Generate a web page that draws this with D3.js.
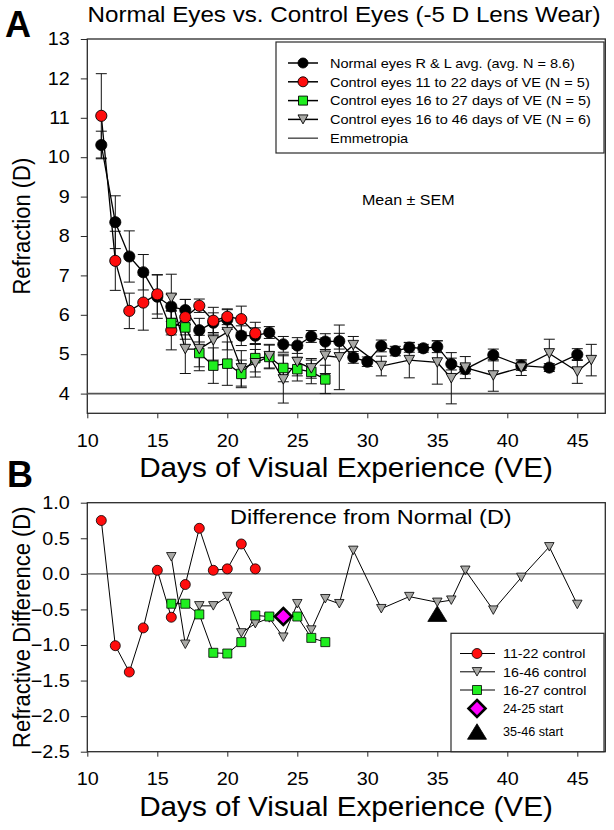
<!DOCTYPE html>
<html><head><meta charset="utf-8">
<script src="https://cdn.jsdelivr.net/npm/d3@7"></script>
<style>body{margin:0;background:#fff} svg{display:block} text{font-family:"Liberation Sans",Arial,sans-serif}</style>
</head><body>
<svg id="c" width="614" height="830"></svg>
<script>
// ---------- data ----------
const xTicks = [10,15,20,25,30,35,40,45];
const yTicksA = [4,5,6,7,8,9,10,11,12,13];
const yTicksB = [-2.5,-2.0,-1.5,-1.0,-0.5,0.0,0.5,1.0];
const emmetropia = 4;

const normalDays = [11,12,13,14,15,16,17,18,19,20,21,22,23,24,25,26,27,28,29,30,31,32,33,34,35,36,37,39,41,43,45];
const normalMean = [10.31,8.35,7.48,7.08,6.46,6.21,6.12,5.61,5.80,5.88,5.47,5.47,5.55,5.25,5.22,5.45,5.32,5.33,4.92,4.81,5.21,5.08,5.17,5.15,5.19,4.75,4.62,4.98,4.71,4.66,4.99];
const normalSem  = [0.35,0.67,0.65,0.45,0.55,0.30,0.27,0.30,0.25,0.25,0.25,0.20,0.15,0.20,0.20,0.15,0.20,0.20,0.15,0.12,0.15,0.12,0.12,0.10,0.15,0.15,0.12,0.15,0.12,0.10,0.15];

const c1122Days = [11,12,13,14,15,16,17,18,19,20,21,22];
const c1122Mean = [11.05,7.37,6.10,6.31,6.52,5.61,5.94,6.23,5.85,5.95,5.89,5.53];
const c1122Sem  = [1.07,0.75,0.45,0.70,0.50,0.50,0.45,0.17,0.34,0.20,0.33,0.28];

const c1627Days = [16,17,18,19,20,21,22,23,24,25,26,27];
const c1627Mean = [5.79,5.68,5.03,4.71,4.76,4.50,4.90,4.93,4.65,4.62,4.55,4.36];
const c1627Sem  = [0.30,0.30,0.45,0.45,0.55,0.35,0.35,0.30,0.35,0.30,0.30,0.36];

const c1646Days = [16,17,18,19,20,21,22,23,24,25,26,27,28,29,31,33,35,36,37,39,41,43,45,46];
const c1646Mean = [6.43,5.13,5.13,5.35,5.56,4.64,4.77,4.95,4.36,4.80,4.64,4.96,4.92,5.23,4.70,4.85,4.79,4.39,4.66,4.46,4.66,5.02,4.56,4.85];
const c1646Sem  = [0.60,0.62,0.45,0.50,0.45,0.45,0.35,0.30,0.60,0.35,0.25,0.45,0.82,0.22,0.25,0.45,0.55,0.65,0.28,0.40,0.20,0.36,0.30,0.40];

const diff1122 = [0.75,-1.01,-1.38,-0.76,0.05,-0.61,-0.15,0.64,0.05,0.07,0.42,0.07];
const diff1646Days = [16,17,18,19,20,21,22,23,24,25,26,27,28,29,31,33,35,36,37,39,41,43,45];
const diff1646 = [0.24,-0.99,-0.45,-0.45,-0.32,-0.83,-0.70,-0.62,-0.89,-0.42,-0.79,-0.35,-0.42,0.33,-0.49,-0.32,-0.40,-0.37,0.05,-0.51,-0.05,0.38,-0.43];
const diff1627 = [-0.42,-0.42,-0.57,-1.11,-1.12,-0.96,-0.585,-0.60,-0.60,-0.60,-0.90,-0.96];
const start2425 = [{day:24, v:-0.60}];
const start3546 = [{day:35, v:-0.56}];

const legendALabels = ["Normal eyes R & L avg. (avg. N = 8.6)","Control eyes 11 to 22 days of VE (N = 5)","Control eyes 16 to 27 days of VE (N = 5)","Control eyes 16 to 46 days of VE (N = 6)","Emmetropia"];
const legendBLabels = ["11-22 control","16-46 control","16-27 control","24-25 start","35-46 start"];

// ---------- drawing ----------
const SX = 1.1;
const FONT = '"Liberation Sans",Arial,sans-serif';
const RED="#ff0d0d", GREEN="#1fee1f", GRAY="#a9a9a6", MAG="#ff00ff";
const svg = d3.select("#c");
const x = d3.scaleLinear().domain([10,47]).range([87.3,605.3]);
const yA = d3.scaleLinear().domain([3.5,13]).range([413.3,39]);
const yB = d3.scaleLinear().domain([-2.5,1.0]).range([751.7,502.7]);

function txt(g, px, py, s, size, o={}) {
  const t = g.append("text")
    .attr("transform", `translate(${px},${py}) scale(${o.sx ?? SX},1)` + (o.rot ? ` rotate(${o.rot})` : ""))
    .attr("font-size", size).attr("text-anchor", o.anchor || "start").attr("fill","#000").text(s);
  if (o.bold) t.attr("font-weight","bold");
  return t;
}
const zip = (d, v) => d.map((day,i)=>({day, v:v[i]}));
const zip3 = (d, v, s) => d.map((day,i)=>({day, v:v[i], s:s[i]}));

const downTri = (w,h) => `M${-w/2},${-h/2}L${w/2},${-h/2}L0,${h/2}Z`;
const upTri = (w,h) => `M${-w/2},${h/2}L${w/2},${h/2}L0,${-h/2}Z`;
const square = (w) => `M${-w/2},${-w/2}h${w}v${w}h${-w}Z`;
const diamond = (r) => `M0,${-r}L${r},0L0,${r}L${-r},0Z`;

function frame(y, ticks, fmt, xPad) {
  const [b, t] = y.range();
  svg.append("rect").attr("x", x(10)).attr("y", t).attr("width", x(47)-x(10)).attr("height", b-t)
    .attr("fill","none").attr("stroke","#2a2a2a").attr("stroke-width",1.3);
  const gx = svg.append("g").attr("transform",`translate(0,${b})`)
    .call(d3.axisBottom(x).tickValues(xTicks).tickSize(5).tickSizeOuter(0).tickPadding(xPad));
  gx.select(".domain").remove();
  gx.attr("font-size",18).attr("font-family",FONT).attr("color","#2a2a2a");
  gx.selectAll("text").attr("fill","#000").attr("transform",`scale(${SX},1)`);
  const gy = svg.append("g").attr("transform",`translate(${x(10)},0)`)
    .call(d3.axisLeft(y).tickValues(ticks).tickFormat(fmt).tickSize(6.5).tickSizeOuter(0).tickPadding(9.4));
  gy.select(".domain").remove();
  gy.attr("font-size",18).attr("font-family",FONT).attr("color","#2a2a2a");
  gy.selectAll("text").attr("fill","#000").attr("transform",`scale(${SX},1)`);
}

function errBars(g, data, y) {
  const eb = g.append("g").attr("stroke","#111").attr("stroke-width",1).attr("fill","none");
  data.forEach(d => {
    const x0 = x(d.day), y1 = y(d.v + d.s), y2 = y(d.v - d.s);
    eb.append("path").attr("d", `M${x0},${y1}V${y2}M${x0-5.5},${y1}H${x0+5.5}M${x0-5.5},${y2}H${x0+5.5}`);
  });
}
function seriesLine(g, data, y, w) {
  g.append("path").datum(data).attr("fill","none").attr("stroke","#000").attr("stroke-width",w)
    .attr("d", d3.line().x(d=>x(d.day)).y(d=>y(d.v)));
}
function marks(g, data, y, shape, fill, sw) {
  g.selectAll(null).data(data).enter().append("path")
    .attr("transform", d=>`translate(${x(d.day)},${y(d.v)})`)
    .attr("d", shape).attr("fill", fill).attr("stroke","#000").attr("stroke-width", sw);
}
const circ = r => `M${r},0A${r},${r} 0 1,1 ${-r},0A${r},${r} 0 1,1 ${r},0Z`;

// ===== Panel A =====
frame(yA, yTicksA, d3.format("d"), 16.2);
const gA = svg.append("g");
gA.append("line").attr("x1",x(10)).attr("x2",x(47)).attr("y1",yA(emmetropia)).attr("y2",yA(emmetropia))
  .attr("stroke","#555").attr("stroke-width",1.6);

const nA = zip3(normalDays, normalMean, normalSem);
const rA = zip3(c1122Days, c1122Mean, c1122Sem);
const gAd = zip3(c1627Days, c1627Mean, c1627Sem);
const tA = zip3(c1646Days, c1646Mean, c1646Sem);
[nA, rA, gAd, tA].forEach(s => errBars(gA, s, yA));
[nA, rA, gAd, tA].forEach(s => seriesLine(gA, s, yA, 1.3));
marks(gA, nA, yA, circ(5.6), "#000", 0.8);
marks(gA, rA, yA, circ(5.6), RED, 0.9);
marks(gA, gAd, yA, square(9.5), GREEN, 0.9);
marks(gA, tA, yA, downTri(10.5,9.5), GRAY, 0.9);

// legend A
const lgA = svg.append("g");
lgA.append("rect").attr("x",276).attr("y",42).attr("width",328).attr("height",111)
  .attr("fill","#fff").attr("stroke","#2a2a2a").attr("stroke-width",1.2);
const legAShapes = [[circ(5),"#000"],[circ(5),RED],[square(9),GREEN],[downTri(10,9),GRAY],null];
legendALabels.forEach((lab,i) => {
  const cy = 63 + i*18.8;
  lgA.append("line").attr("x1",288).attr("x2",318).attr("y1",cy).attr("y2",cy)
    .attr("stroke", i===4 ? "#555" : "#000").attr("stroke-width", 1.5);
  if (legAShapes[i]) lgA.append("path").attr("transform",`translate(303,${cy})`).attr("d",legAShapes[i][0])
    .attr("fill",legAShapes[i][1]).attr("stroke","#000").attr("stroke-width",0.9);
  txt(lgA, 330, cy+4.7, lab, 13.2);
});

txt(svg, 362, 205, "Mean \u00b1 SEM", 14.6);
txt(svg, 344, 22, "Normal Eyes vs. Control Eyes (-5 D Lens Wear)", 22, {anchor:"middle"});
txt(svg, 5, 37, "A", 36, {bold:true, sx:1});
txt(svg, 346, 477, "Days of Visual Experience (VE)", 27, {anchor:"middle"});
txt(svg, 30, yA(8.25), "Refraction (D)", 22, {anchor:"middle", rot:-90});

// ===== Panel B =====
frame(yB, yTicksB, d3.format(".1f"), 15.5);
const gB = svg.append("g");
gB.append("line").attr("x1",x(10)).attr("x2",x(47)).attr("y1",yB(0)).attr("y2",yB(0))
  .attr("stroke","#555").attr("stroke-width",1.4);
const rB = zip(c1122Days, diff1122);
const tB = zip(diff1646Days, diff1646);
const gBd = zip(c1627Days, diff1627);
[rB, tB, gBd].forEach(s => seriesLine(gB, s, yB, 1));
marks(gB, rB, yB, circ(5), RED, 0.8);
marks(gB, tB, yB, downTri(9.5,8.5), GRAY, 0.8);
marks(gB, gBd, yB, square(9), GREEN, 0.8);
marks(gB, start2425.map(d=>({day:d.day, v:d.v})), yB, diamond(8.5), MAG, 2.6);
marks(gB, start3546.map(d=>({day:d.day, v:d.v})), yB, upTri(19,15.5), "#000", 0.8);

// legend B
const lgB = svg.append("g");
lgB.append("rect").attr("x",451).attr("y",633.3).attr("width",153).attr("height",118.4)
  .attr("fill","#fff").attr("stroke","#2a2a2a").attr("stroke-width",1.2);
const legBY = [653.5, 671.8, 690, 708.5, 731.5];
const legBShapes = [[circ(5),RED,0.8,true],[downTri(9.5,8.5),GRAY,0.8,true],[square(9),GREEN,0.8,true],[diamond(8.5),MAG,2.6,false],[upTri(19,15.5),"#000",0.8,false]];
legendBLabels.forEach((lab,i) => {
  const cy = legBY[i], sh = legBShapes[i];
  if (sh[3]) lgB.append("line").attr("x1",460).attr("x2",495).attr("y1",cy).attr("y2",cy).attr("stroke","#000").attr("stroke-width",1);
  lgB.append("path").attr("transform",`translate(477,${cy})`).attr("d",sh[0]).attr("fill",sh[1]).attr("stroke","#000").attr("stroke-width",sh[2]);
  txt(lgB, 503, cy+4.8, lab, i>=3 ? 12.6 : 13, {sx: i>=3 ? 1.0 : SX});
});

txt(svg, 230, 524, "Difference from Normal (D)", 21, {sx:1.12});
txt(svg, 7, 487, "B", 36, {bold:true, sx:1});
txt(svg, 346, 816, "Days of Visual Experience (VE)", 27, {anchor:"middle"});
txt(svg, 30, yB(-0.75), "Refractive Difference (D)", 22, {anchor:"middle", rot:-90});
</script>
</body></html>
